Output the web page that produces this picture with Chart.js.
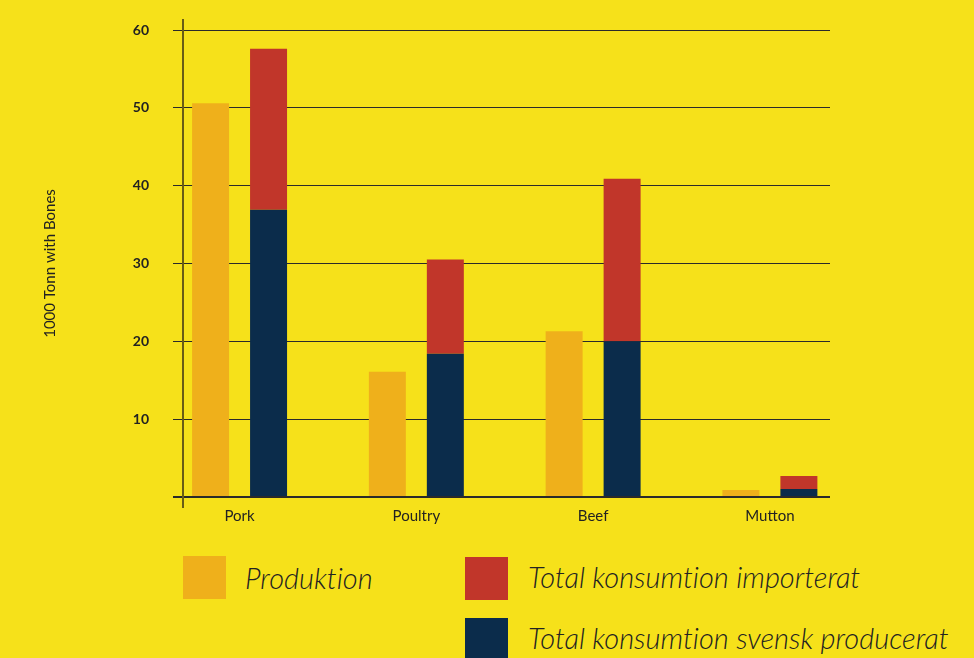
<!DOCTYPE html>
<html>
<head>
<meta charset="utf-8">
<script src="https://cdn.jsdelivr.net/npm/chart.js@4"></script>
<style>
  html, body { margin: 0; padding: 0; background: #f6e11a; }
  #wrap { position: relative; width: 974px; height: 658px; overflow: hidden; }
  #box { position: absolute; left: 0; top: 0; width: 974px; height: 537px; }
  .sw { position: absolute; width: 43px; height: 43px; }
  .lt { position: absolute; font-family: Lato, "Open Sans", sans-serif; font-style: italic; font-weight: 300;
        font-size: 29px; line-height: 43px; color: #222; white-space: nowrap; font-variant-ligatures: none; }
</style>
</head>
<body>
<div id="wrap">
  <div id="box"><canvas id="meatChart"></canvas></div>
  <div class="sw" style="left:183px;top:556px;background:#efb01b"></div>
  <div class="lt" style="left:245px;top:556px">Produktion</div>
  <div class="sw" style="left:465px;top:557px;background:#c1362a"></div>
  <div class="lt" style="left:528px;top:555px">Total konsumtion importerat</div>
  <div class="sw" style="left:465px;top:618px;background:#0b2c4b"></div>
  <div class="lt" style="left:528px;top:616px">Total konsumtion svensk producerat</div>
</div>
<script>
// data (1000 tonn with bones)
const categories = ['Pork', 'Poultry', 'Beef', 'Mutton'];
const produktion = [50.6, 16.1, 21.3, 0.9];
const svenskProducerat = [36.9, 18.4, 20.0, 1.0];
const importerat = [20.7, 12.1, 20.9, 1.7];
const yTicks = [0, 10, 20, 30, 40, 50, 60];

const pts = arr => arr.map((v, i) => ({ x: i, y: v }));
const tickFont = { family: 'Lato', size: 14, weight: 'bold' };

const ctx = document.getElementById('meatChart').getContext('2d');
const meatChart = new Chart(ctx, {
  type: 'bar',
  data: {
    datasets: [
      { label: 'Produktion', data: pts(produktion), backgroundColor: '#efb01b', stack: 'prod' },
      { label: 'Total konsumtion svensk producerat', data: pts(svenskProducerat), backgroundColor: '#0b2c4b', stack: 'kons' },
      { label: 'Total konsumtion importerat', data: pts(importerat), backgroundColor: '#c1362a', stack: 'kons' }
    ]
  },
  options: {
    responsive: true,
    maintainAspectRatio: false,
    animation: false,
    categoryPercentage: 0.656,
    barPercentage: 0.638,
    layout: { padding: { left: 0, top: 20, right: 144, bottom: 0 } },
    plugins: { legend: { display: false }, tooltip: { enabled: false } },
    scales: {
      x: {
        type: 'linear',
        offset: false,
        min: -0.32,
        max: 3.34,
        stacked: true,
        grid: { display: false, drawTicks: false, offset: false },
        border: { display: false },
        afterBuildTicks: s => { s.ticks = categories.map((c, i) => ({ value: i })); },
        afterFit: s => { s.height = 30; s.paddingLeft = 0; s.paddingRight = 0; },
        ticks: {
          callback: v => categories[v],
          color: '#222',
          font: { family: 'Lato', size: 15 },
          padding: 0,
          maxRotation: 0
        }
      },
      y: {
        min: -1.3,
        max: 61.3,
        stacked: true,
        afterBuildTicks: s => { s.ticks = yTicks.map(v => ({ value: v })); },
        afterFit: s => { s.width = 183; s.paddingTop = 0; s.paddingBottom = 0; },
        grid: {
          color: '#2a2a2a',
          lineWidth: c => (c.tick && c.tick.value === 0 ? 2 : 1),
          tickLength: 10
        },
        border: { display: true, color: 'rgba(70,60,20,0.8)', width: 2 },
        ticks: {
          callback: v => (v === 0 ? '' : v),
          color: '#222',
          font: tickFont,
          padding: 24
        },
        title: {
          display: true,
          text: '1000 Tonn with Bones',
          color: '#222',
          font: { family: 'Lato', size: 15 },
          padding: { top: 41, bottom: 0 }
        }
      }
    }
  }
});
</script>
</body>
</html>
